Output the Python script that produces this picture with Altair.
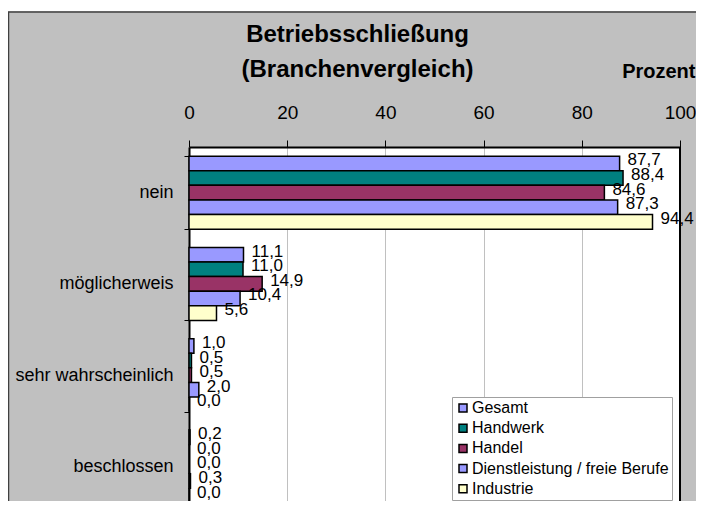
import altair as alt
import pandas as pd

categories = ["nein", "möglicherweis", "sehr wahrscheinlich", "beschlossen"]
series = ["Gesamt", "Handwerk", "Handel", "Dienstleistung / freie Berufe", "Industrie"]
colors = ["#9999FF", "#008080", "#993366", "#9999FF", "#FFFFCC"]
gesamt = [87.7, 11.1, 1.0, 0.2]
handwerk = [88.4, 11.0, 0.5, 0.0]
handel = [84.6, 14.9, 0.5, 0.0]
dienstleistung = [87.3, 10.4, 2.0, 0.3]
industrie = [94.4, 5.6, 0.0, 0.0]
x_ticks = [0, 20, 40, 60, 80, 100]
x_max = 100

rows = []
for s, vals in zip(series, [gesamt, handwerk, handel, dienstleistung, industrie]):
    for c, v in zip(categories, vals):
        rows.append({"Kategorie": c, "Branche": s, "Wert": v,
                     "Label": f"{v:.1f}".replace(".", ",")})
df = pd.DataFrame(rows)

FONT = "Liberation Sans"
W, H = 491, 354
BAND_RANGE = 365

y_enc = alt.Y("Kategorie:N", sort=categories,
              scale=alt.Scale(paddingInner=0.2, paddingOuter=0.1, range=[0, BAND_RANGE]),
              axis=alt.Axis(title=None, labelFont=FONT, labelFontSize=18, labelColor="black",
                            tickBand="extent", tickSize=5, tickColor="black", tickWidth=1,
                            domainColor="black", domainWidth=2, labelPadding=11, grid=False))
yoff = alt.YOffset("Branche:N", sort=series, scale=alt.Scale(paddingInner=0, paddingOuter=0))

base = alt.Chart(df).encode(y=y_enc, yOffset=yoff)

x_scale = alt.Scale(domain=[0, x_max], nice=False)

bars = base.mark_bar(stroke="black", strokeWidth=1.5).encode(
    x=alt.X("Wert:Q", scale=x_scale,
            axis=alt.Axis(orient="top", values=x_ticks, title="Prozent",
                          titleFont=FONT, titleFontSize=20, titleFontWeight="bold", titleColor="black",
                          titleX=506, titleY=-70, titleAlign="right", titleBaseline="alphabetic",
                          titleAnchor="end",
                          labelFont=FONT, labelFontSize=19, labelColor="black",
                          labelBaseline="alphabetic", labelPadding=22, labelFlush=False,
                          tickSize=7, tickColor="black", domainColor="black", domainWidth=2,
                          grid=True, gridColor="#c0c0c0", gridWidth=1)),
    color=alt.Color("Branche:N", sort=series,
                    scale=alt.Scale(domain=series, range=colors),
                    legend=alt.Legend(title=None, orient="none", legendX=263, legendY=250,
                                      fillColor="white", strokeColor="#a0a0a0", padding=3,
                                      symbolType="square", symbolSize=64,
                                      symbolStrokeColor="black", symbolStrokeWidth=1.5,
                                      labelFont=FONT, labelFontSize=16, labelColor="black",
                                      labelLimit=400, labelOffset=1, rowPadding=4.2)),
)

labels = base.mark_text(align="left", baseline="middle", dx=8, dy=-3,
                        font=FONT, fontSize=17, color="black").encode(
    x=alt.X("Wert:Q", scale=x_scale), text="Label:N")

border_df = pd.DataFrame({"v": [x_max]})
right_border = alt.Chart(border_df).mark_rule(color="black", strokeWidth=2).encode(
    x=alt.X("v:Q", scale=x_scale))

frame_df = pd.DataFrame({"a": [0]})
frame = alt.Chart(frame_df).mark_rect(fill=None, stroke="#404040", strokeWidth=1.5).encode(
    x=alt.value(-180.5), x2=alt.value(700), y=alt.value(-135), y2=alt.value(500))
topstrip = alt.Chart(frame_df).mark_rect(fill="white", stroke=None).encode(
    x=alt.value(-182), x2=alt.value(700), y=alt.value(-140), y2=alt.value(-135.8))

chart = alt.layer(bars, labels, right_border, topstrip, frame).properties(
    width=W, height=H,
    padding={"left": 181, "top": 139, "right": 16, "bottom": 0},
    autosize=alt.AutoSizeParams(type="none"),
    title=alt.TitleParams(["Betriebsschließung", "(Branchenvergleich)"], font=FONT, fontSize=24,
                          fontWeight="bold", color="black", anchor="middle", dx=-77, dy=85,
                          lineHeight=35, offset=10),
).configure(background="#c0c0c0").configure_view(stroke=None, fill="white")

chart.save("out.html", embed_options={"renderer": "svg", "actions": False})
